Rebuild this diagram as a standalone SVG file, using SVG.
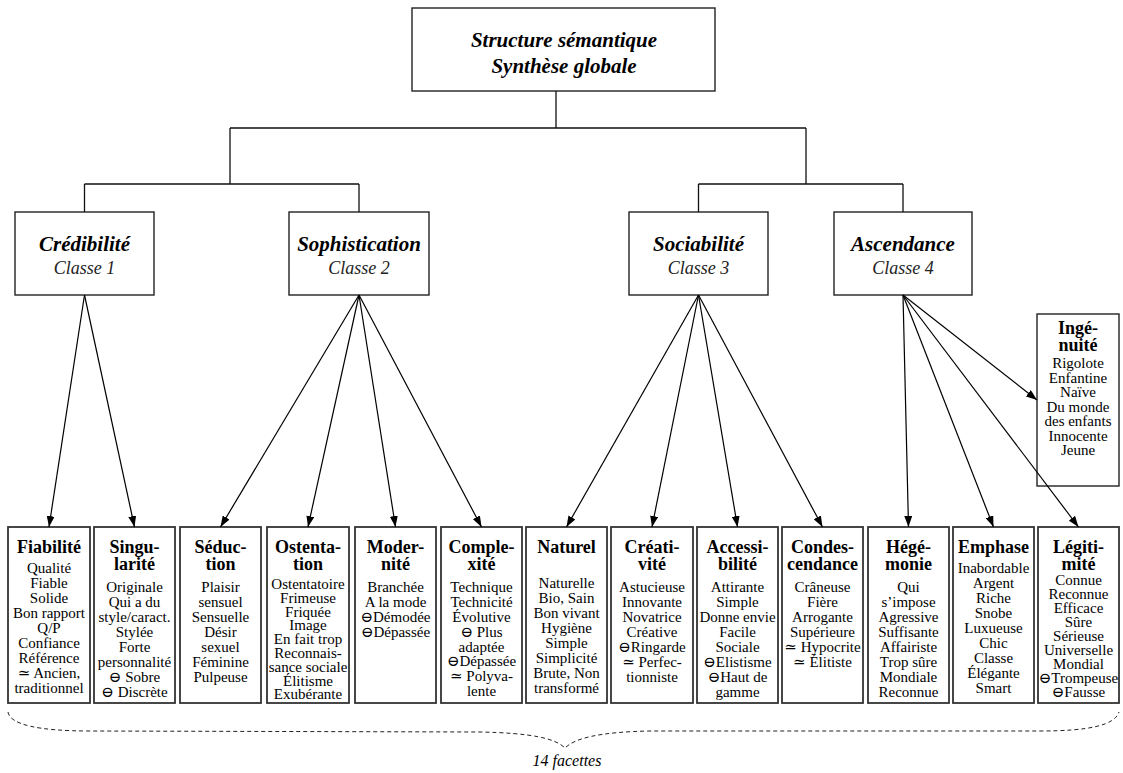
<svg xmlns="http://www.w3.org/2000/svg" width="1123" height="773" viewBox="0 0 1123 773">
<style>
text{font-family:"Liberation Serif","DejaVu Serif",serif;fill:#000;text-anchor:middle}
.top{font-size:21px;font-weight:bold;font-style:italic}
.cls{font-size:21px;font-weight:bold;font-style:italic}
.sub{font-size:18px;font-style:italic;fill:#222}
.ft{font-size:18px;font-weight:bold}
.fb{font-size:15px}
.box{fill:#fff;stroke:#222;stroke-width:1.4}
.fbox{fill:#fff;stroke:#333;stroke-width:1.8}
.ln{fill:none;stroke:#111;stroke-width:1.3}
.ar{fill:none;stroke:#000;stroke-width:1.2;marker-end:url(#ah)}
.brace{fill:none;stroke:#222;stroke-width:1;stroke-dasharray:4 3}
.cap{font-size:16px;font-style:italic}
</style>
<defs>
<marker id="ah" viewBox="0 0 11 8" refX="11" refY="4" markerWidth="11" markerHeight="8" orient="auto" markerUnits="userSpaceOnUse"><path d="M0,0 L11,4 L0,8 z" fill="#000"/></marker>
</defs>

<g id="root">
<rect class="box" x="412" y="8" width="303" height="83"/>
<text class="top" x="564" y="47">Structure sémantique</text>
<text class="top" x="564" y="73">Synthèse globale</text>
</g>

<g id="classe1">
<rect class="box" x="15" y="212" width="139" height="83"/>
<text class="cls" x="84.5" y="251">Crédibilité</text>
<text class="sub" x="84.5" y="274">Classe 1</text>
</g>
<g id="classe2">
<rect class="box" x="289" y="212" width="140" height="83"/>
<text class="cls" x="359" y="251">Sophistication</text>
<text class="sub" x="359" y="274">Classe 2</text>
</g>
<g id="classe3">
<rect class="box" x="629" y="212" width="139" height="83"/>
<text class="cls" x="698.5" y="251">Sociabilité</text>
<text class="sub" x="698.5" y="274">Classe 3</text>
</g>
<g id="classe4">
<rect class="box" x="834" y="212" width="138" height="83"/>
<text class="cls" x="903" y="251">Ascendance</text>
<text class="sub" x="903" y="274">Classe 4</text>
</g>

<g id="fiabilite">
<rect class="fbox" x="8" y="527" width="82" height="176"/>
<text class="ft" x="49" y="553">Fiabilité</text>
<text class="fb" x="49" y="573">Qualité</text>
<text class="fb" x="49" y="588">Fiable</text>
<text class="fb" x="49" y="603">Solide</text>
<text class="fb" x="49" y="618">Bon rapport</text>
<text class="fb" x="49" y="633">Q/P</text>
<text class="fb" x="49" y="648">Confiance</text>
<text class="fb" x="49" y="663">Référence</text>
<text class="fb" x="49" y="678">≃ Ancien,</text>
<text class="fb" x="49" y="693">traditionnel</text>
</g>

<g id="singularite">
<rect class="fbox" x="94" y="527" width="81" height="176"/>
<text class="ft" x="134.5" y="553">Singu-</text>
<text class="ft" x="134.5" y="570">larité</text>
<text class="fb" x="134.5" y="592">Originale</text>
<text class="fb" x="134.5" y="607">Qui a du</text>
<text class="fb" x="134.5" y="622">style/caract.</text>
<text class="fb" x="134.5" y="637">Stylée</text>
<text class="fb" x="134.5" y="652">Forte</text>
<text class="fb" x="134.5" y="667">personnalité</text>
<text class="fb" x="134.5" y="682">⊖ Sobre</text>
<text class="fb" x="134.5" y="697">⊖ Discrète</text>
</g>

<g id="seduction">
<rect class="fbox" x="180" y="527" width="81" height="176"/>
<text class="ft" x="220.5" y="553">Séduc-</text>
<text class="ft" x="220.5" y="570">tion</text>
<text class="fb" x="220.5" y="592">Plaisir</text>
<text class="fb" x="220.5" y="607">sensuel</text>
<text class="fb" x="220.5" y="622">Sensuelle</text>
<text class="fb" x="220.5" y="637">Désir</text>
<text class="fb" x="220.5" y="652">sexuel</text>
<text class="fb" x="220.5" y="667">Féminine</text>
<text class="fb" x="220.5" y="682">Pulpeuse</text>
</g>

<g id="ostentation">
<rect class="fbox" x="267" y="527" width="82" height="176"/>
<text class="ft" x="308" y="553">Ostenta-</text>
<text class="ft" x="308" y="570">tion</text>
<text class="fb" x="308" y="589">Ostentatoire</text>
<text class="fb" x="308" y="603">Frimeuse</text>
<text class="fb" x="308" y="617">Friquée</text>
<text class="fb" x="308" y="630">Image</text>
<text class="fb" x="308" y="644">En fait trop</text>
<text class="fb" x="308" y="658">Reconnais-</text>
<text class="fb" x="308" y="672">sance sociale</text>
<text class="fb" x="308" y="686">Élitisme</text>
<text class="fb" x="308" y="699">Exubérante</text>
</g>

<g id="modernite">
<rect class="fbox" x="355" y="527" width="81" height="176"/>
<text class="ft" x="395.5" y="553">Moder-</text>
<text class="ft" x="395.5" y="570">nité</text>
<text class="fb" x="395.5" y="592">Branchée</text>
<text class="fb" x="395.5" y="607">A la mode</text>
<text class="fb" x="395.5" y="622">⊖Démodée</text>
<text class="fb" x="395.5" y="637">⊖Dépassée</text>
</g>

<g id="complexite">
<rect class="fbox" x="441" y="527" width="81" height="176"/>
<text class="ft" x="481.5" y="553">Comple-</text>
<text class="ft" x="481.5" y="570">xité</text>
<text class="fb" x="481.5" y="592">Technique</text>
<text class="fb" x="481.5" y="607">Technicité</text>
<text class="fb" x="481.5" y="622">Évolutive</text>
<text class="fb" x="481.5" y="637">⊖ Plus</text>
<text class="fb" x="481.5" y="652">adaptée</text>
<text class="fb" x="481.5" y="666">⊖Dépassée</text>
<text class="fb" x="481.5" y="681">≃ Polyva-</text>
<text class="fb" x="481.5" y="696">lente</text>
</g>

<g id="naturel">
<rect class="fbox" x="526" y="527" width="81" height="176"/>
<text class="ft" x="566.5" y="553">Naturel</text>
<text class="fb" x="566.5" y="588">Naturelle</text>
<text class="fb" x="566.5" y="603">Bio, Sain</text>
<text class="fb" x="566.5" y="618">Bon vivant</text>
<text class="fb" x="566.5" y="633">Hygiène</text>
<text class="fb" x="566.5" y="648">Simple</text>
<text class="fb" x="566.5" y="663">Simplicité</text>
<text class="fb" x="566.5" y="678">Brute, Non</text>
<text class="fb" x="566.5" y="693">transformé</text>
</g>

<g id="creativite">
<rect class="fbox" x="611" y="527" width="82" height="176"/>
<text class="ft" x="652" y="553">Créati-</text>
<text class="ft" x="652" y="570">vité</text>
<text class="fb" x="652" y="592">Astucieuse</text>
<text class="fb" x="652" y="607">Innovante</text>
<text class="fb" x="652" y="622">Novatrice</text>
<text class="fb" x="652" y="637">Créative</text>
<text class="fb" x="652" y="652">⊖Ringarde</text>
<text class="fb" x="652" y="667">≃ Perfec-</text>
<text class="fb" x="652" y="682">tionniste</text>
</g>

<g id="accessibilite">
<rect class="fbox" x="697" y="527" width="81" height="176"/>
<text class="ft" x="737.5" y="553">Accessi-</text>
<text class="ft" x="737.5" y="570">bilité</text>
<text class="fb" x="737.5" y="592">Attirante</text>
<text class="fb" x="737.5" y="607">Simple</text>
<text class="fb" x="737.5" y="622">Donne envie</text>
<text class="fb" x="737.5" y="637">Facile</text>
<text class="fb" x="737.5" y="652">Sociale</text>
<text class="fb" x="737.5" y="667">⊖Elistisme</text>
<text class="fb" x="737.5" y="682">⊖Haut de</text>
<text class="fb" x="737.5" y="697">gamme</text>
</g>

<g id="condescendance">
<rect class="fbox" x="782" y="527" width="81" height="176"/>
<text class="ft" x="822.5" y="553">Condes-</text>
<text class="ft" x="822.5" y="570">cendance</text>
<text class="fb" x="822.5" y="592">Crâneuse</text>
<text class="fb" x="822.5" y="607">Fière</text>
<text class="fb" x="822.5" y="622">Arrogante</text>
<text class="fb" x="822.5" y="637">Supérieure</text>
<text class="fb" x="822.5" y="652">≃ Hypocrite</text>
<text class="fb" x="822.5" y="667">≃ Élitiste</text>
</g>

<g id="hegemonie">
<rect class="fbox" x="868" y="527" width="81" height="176"/>
<text class="ft" x="908.5" y="553">Hégé-</text>
<text class="ft" x="908.5" y="570">monie</text>
<text class="fb" x="908.5" y="592">Qui</text>
<text class="fb" x="908.5" y="607">s’impose</text>
<text class="fb" x="908.5" y="622">Agressive</text>
<text class="fb" x="908.5" y="637">Suffisante</text>
<text class="fb" x="908.5" y="652">Affairiste</text>
<text class="fb" x="908.5" y="667">Trop sûre</text>
<text class="fb" x="908.5" y="682">Mondiale</text>
<text class="fb" x="908.5" y="697">Reconnue</text>
</g>

<g id="emphase">
<rect class="fbox" x="953" y="527" width="81" height="176"/>
<text class="ft" x="993.5" y="553">Emphase</text>
<text class="fb" x="993.5" y="573">Inabordable</text>
<text class="fb" x="993.5" y="588">Argent</text>
<text class="fb" x="993.5" y="603">Riche</text>
<text class="fb" x="993.5" y="618">Snobe</text>
<text class="fb" x="993.5" y="633">Luxueuse</text>
<text class="fb" x="993.5" y="648">Chic</text>
<text class="fb" x="993.5" y="663">Classe</text>
<text class="fb" x="993.5" y="678">Élégante</text>
<text class="fb" x="993.5" y="693">Smart</text>
</g>

<g id="legitimite">
<rect class="fbox" x="1038" y="527" width="81" height="176"/>
<text class="ft" x="1078.5" y="553">Légiti-</text>
<text class="ft" x="1078.5" y="570">mité</text>
<text class="fb" x="1078.5" y="585">Connue</text>
<text class="fb" x="1078.5" y="599">Reconnue</text>
<text class="fb" x="1078.5" y="613">Efficace</text>
<text class="fb" x="1078.5" y="627">Sûre</text>
<text class="fb" x="1078.5" y="641">Sérieuse</text>
<text class="fb" x="1078.5" y="655">Universelle</text>
<text class="fb" x="1078.5" y="669">Mondial</text>
<text class="fb" x="1078.5" y="683">⊖Trompeuse</text>
<text class="fb" x="1078.5" y="697">⊖Fausse</text>
</g>

<g id="ingenuite">
<rect class="box" x="1037" y="314" width="82" height="172"/>
<text class="ft" x="1078" y="334">Ingé-</text>
<text class="ft" x="1078" y="351">nuité</text>
<text class="fb" x="1078" y="368">Rigolote</text>
<text class="fb" x="1078" y="382.5">Enfantine</text>
<text class="fb" x="1078" y="397">Naïve</text>
<text class="fb" x="1078" y="411.5">Du monde</text>
<text class="fb" x="1078" y="426">des enfants</text>
<text class="fb" x="1078" y="440.5">Innocente</text>
<text class="fb" x="1078" y="455">Jeune</text>
</g>

<g id="connectors">
<path class="ln" d="M556,91 V128 M230,128 H806 M230,128 V184 M84.5,184 H359 M84.5,184 V212 M359,184 V212 M806,128 V184 M698.5,184 H903 M698.5,184 V212 M903,184 V212"/>
<line class="ar" x1="84.5" y1="295" x2="49" y2="527"/>
<line class="ar" x1="84.5" y1="295" x2="134.5" y2="527"/>
<line class="ar" x1="359" y1="295" x2="220.5" y2="527"/>
<line class="ar" x1="359" y1="295" x2="308" y2="527"/>
<line class="ar" x1="359" y1="295" x2="395.5" y2="527"/>
<line class="ar" x1="359" y1="295" x2="481.5" y2="527"/>
<line class="ar" x1="698.5" y1="295" x2="566.5" y2="527"/>
<line class="ar" x1="698.5" y1="295" x2="652" y2="527"/>
<line class="ar" x1="698.5" y1="295" x2="737.5" y2="527"/>
<line class="ar" x1="698.5" y1="295" x2="822.5" y2="527"/>
<line class="ar" x1="903" y1="295" x2="908.5" y2="527"/>
<line class="ar" x1="903" y1="295" x2="993.5" y2="527"/>
<line class="ar" x1="903" y1="295" x2="1078.5" y2="527"/>
<line class="ar" x1="903" y1="295" x2="1037" y2="400"/>
</g>

<g id="brace">
<path class="brace" d="M8,712 C10,725 40,731 90,731 L480,732 C530,733 555,738 565,748 C575,738 600,732 650,731 L1040,731 C1090,731 1115,725 1119,712"/>
<text class="cap" x="567" y="766">14 facettes</text>
</g>
</svg>
